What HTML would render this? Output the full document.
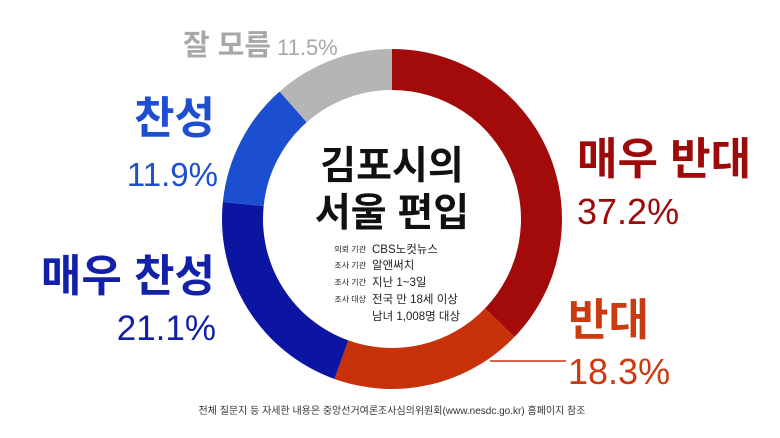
<!DOCTYPE html>
<html><head><meta charset="utf-8"><style>
body{margin:0;width:780px;height:438px;background:#fff;overflow:hidden;font-family:"Liberation Sans","Noto Sans CJK KR",sans-serif;}
svg{position:absolute;left:0;top:0}
</style></head><body>
<svg width="780" height="438">
<g id="slices"></g>
<line x1="490" y1="361" x2="566" y2="361" stroke="#c8340c" stroke-width="1.5"/>
<g font-family="Liberation Sans, Noto Sans CJK KR, sans-serif" font-weight="bold">
<text x="183" y="55" font-size="29" fill="#a8a8a8">잘 모름</text>
<text x="277" y="55" font-size="22" font-weight="normal" fill="#a8a8a8">11.5%</text>
<text x="215" y="133" font-size="44" text-anchor="end" fill="#1e4fd0">찬성</text>
<text x="218" y="186" font-size="33" font-weight="normal" text-anchor="end" fill="#1e4fd0">11.9%</text>
<text x="215" y="291" font-size="44" text-anchor="end" fill="#1320a8">매우 찬성</text>
<text x="216" y="340" font-size="35" font-weight="normal" text-anchor="end" fill="#1320a8">21.1%</text>
<text x="577" y="174" font-size="44" fill="#9c0a0a">매우 반대</text>
<text x="577" y="224" font-size="36" font-weight="normal" fill="#9c0a0a">37.2%</text>
<text x="568" y="335" font-size="44" fill="#cc3a10">반대</text>
<text x="568" y="384" font-size="36" font-weight="normal" fill="#cc3a10">18.3%</text>
<text x="392" y="179" font-size="39" text-anchor="middle" fill="#111">김포시의</text>
<text x="392" y="226" font-size="39" text-anchor="middle" fill="#111">서울 편입</text>
</g>
<g font-family="Liberation Sans, Noto Sans CJK KR, sans-serif" fill="#222">
<text x="366" y="252" font-size="8" text-anchor="end">의뢰 기관</text>
<text x="372" y="253" font-size="11.5">CBS노컷뉴스</text>
<text x="366" y="268" font-size="8" text-anchor="end">조사 기관</text>
<text x="372" y="269" font-size="11.5">알앤써치</text>
<text x="366" y="285" font-size="8" text-anchor="end">조사 기간</text>
<text x="372" y="286" font-size="11.5">지난 1~3일</text>
<text x="366" y="302" font-size="8" text-anchor="end">조사 대상</text>
<text x="372" y="303" font-size="11.5">전국 만 18세 이상</text>
<text x="372" y="320" font-size="11.5">남녀 1,008명 대상</text>
<text x="392" y="414" font-size="10" text-anchor="middle" fill="#333">전체 질문지 등 자세한 내용은 중앙선거여론조사심의위원회(www.nesdc.go.kr) 홈페이지 참조</text>
</g>
</svg>
<script>
const categories=["매우 반대","반대","매우 찬성","찬성","잘 모름"];
const values=[37.2,18.3,21.1,11.9,11.5];
const colors=["#a30a0a","#c8320a","#0c14a2","#1c4fd0","#b5b5b5"];
const cx=392,cy=219,R=170,r=129;
const g=document.getElementById('slices');
const total=values.reduce((a,b)=>a+b,0);
function pt(a,rad){return [cx+rad*Math.sin(a),cy-rad*Math.cos(a)];}
let acc=0;
values.forEach((v,i)=>{
 const a0=acc/total*2*Math.PI; acc+=v; const a1=acc/total*2*Math.PI;
 const lg=(a1-a0)>Math.PI?1:0;
 const p1=pt(a0,R),p2=pt(a1,R),p3=pt(a1,r),p4=pt(a0,r);
 const p=document.createElementNS('http://www.w3.org/2000/svg','path');
 p.setAttribute('d',`M${p1}A${R},${R} 0 ${lg} 1 ${p2}L${p3}A${r},${r} 0 ${lg} 0 ${p4}Z`);
 p.setAttribute('fill',colors[i]);
 
 
 g.appendChild(p);
});
</script>
</body></html>
